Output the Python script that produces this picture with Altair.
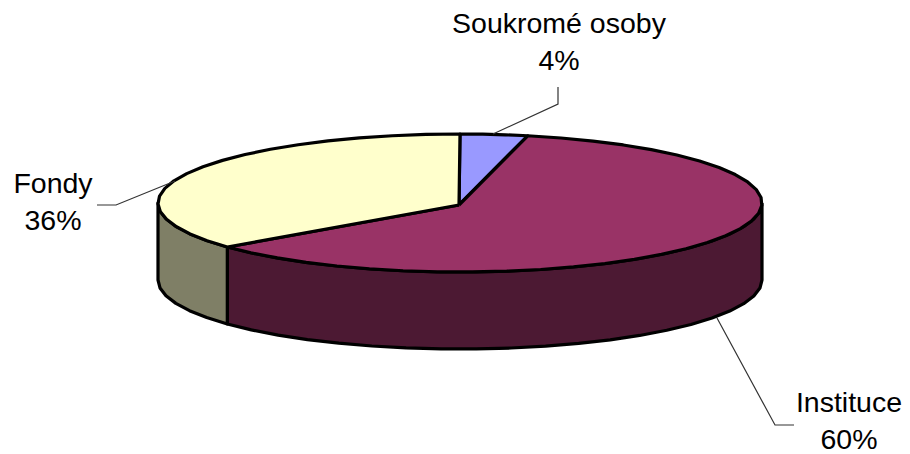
import math
import altair as alt
import pandas as pd

# Values
categories = ["Soukromé osoby", "Instituce", "Fondy"]
shares = [3.6, 60.4, 36.0]
top_colors = ["#9999FF", "#993366", "#FFFFCC"]
wall_colors = ["#4C4C80", "#4C1933", "#7F7F66"]

# Pie geometry in the chart's own units
CX, CY, RX, RY, DEPTH = 460, 203, 302, 69, 77
FONT = "Liberation Sans"
FONT_SIZE = 28.5


def ell(pct, drop=0):
    a = math.radians(pct * 3.6)
    return CX + RX * math.sin(a), CY - RY * math.cos(a) + drop


def arc_points(p0, p1, drop=0):
    n = max(3, int(abs(p1 - p0) / 1.8))
    return [ell(p0 + (p1 - p0) * i / n, drop) for i in range(n + 1)]


X = alt.Scale(domain=[8, 902], range=[0, 894], nice=False, zero=False)
Y = alt.Scale(domain=[8, 454], range=[0, 446], nice=False, zero=False)


def frame(points):
    df = pd.DataFrame(points, columns=["x", "y"])
    df["o"] = range(len(df))
    return df


def poly(points, fill, sw=3.2):
    return alt.Chart(frame(points)).mark_line(
        fill=fill, stroke="black", strokeWidth=sw, strokeJoin="round", clip=False
    ).encode(
        x=alt.X("x:Q", scale=X, axis=None),
        y=alt.Y("y:Q", scale=Y, axis=None),
        order="o:O",
    )


def leader(points):
    return alt.Chart(frame(points)).mark_line(stroke="#333333", strokeWidth=1.2).encode(
        x=alt.X("x:Q", scale=X, axis=None),
        y=alt.Y("y:Q", scale=Y, axis=None),
        order="o:O",
    )


# cumulative slice limits, clockwise from twelve o'clock
limits = [0]
for s in shares:
    limits.append(limits[-1] + s)

layers = []
# side walls: only the front half (25..75 %) is visible
for i in (1, 2):
    a, b = max(limits[i], 25), min(limits[i + 1], 75)
    pts = arc_points(a, b) + arc_points(b, a, DEPTH)
    pts.append(pts[0])
    layers.append(poly(pts, wall_colors[i]))
# top faces
apex = (CX - 1, CY + 2)
for i in range(3):
    pts = [apex] + arc_points(limits[i], limits[i + 1]) + [apex]
    layers.append(poly(pts, top_colors[i]))

layers.append(leader([(558, 87), (558, 104), (493, 134)]))
layers.append(leader([(97, 205), (116, 205), (175, 181)]))
layers.append(leader([(717, 318), (775, 425), (794, 425)]))

label_pos = {"Soukromé osoby": (559, 24), "Instituce": (849, 403), "Fondy": (53, 184)}
rows = []
for cat, s in zip(categories, shares):
    lx, ly = label_pos[cat]
    rows.append({"t": cat, "x": lx, "y": ly})
    rows.append({"t": f"{round(s)}%", "x": lx, "y": ly + 37})
layers.append(
    alt.Chart(pd.DataFrame(rows)).mark_text(
        font=FONT, fontSize=FONT_SIZE, color="black", align="center", baseline="middle"
    ).encode(
        x=alt.X("x:Q", scale=X, axis=None),
        y=alt.Y("y:Q", scale=Y, axis=None),
        text="t:N",
    )
)

chart = alt.layer(*layers).properties(
    width=894, height=446, padding=0, autosize=alt.AutoSizeParams(type="none"), background="white"
).configure_view(stroke=None)

chart.save("out.html", embed_options={"renderer": "svg", "actions": False})
